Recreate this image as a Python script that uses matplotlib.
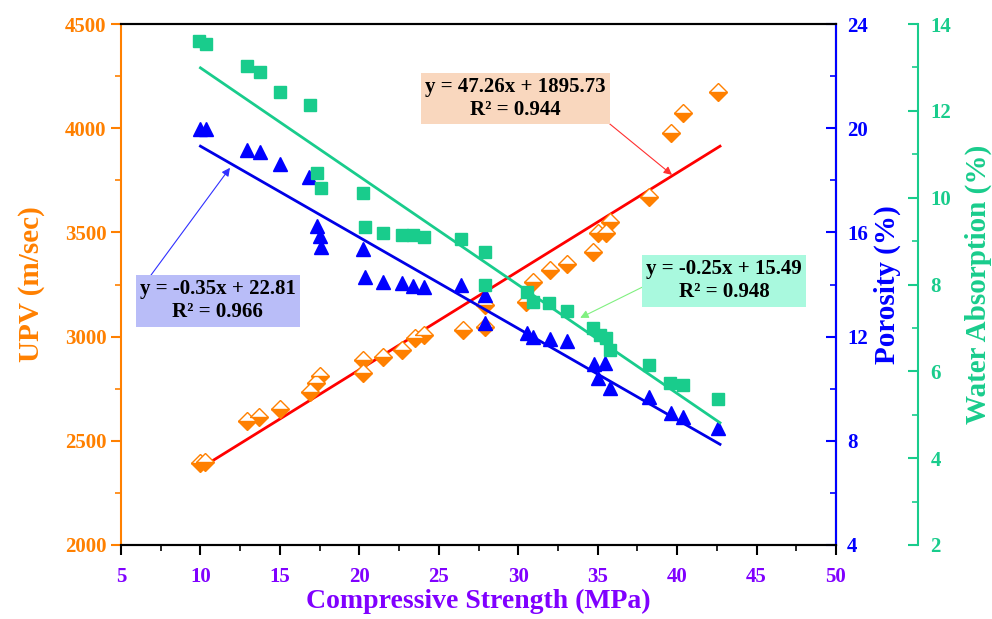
import matplotlib.pyplot as plt
from matplotlib.ticker import MultipleLocator

# compressive strength (MPa) vs UPV (m/sec)
upv_x = [10.0, 10.3, 12.9, 13.7, 15.0, 16.9, 17.3, 17.5, 20.2, 20.2, 21.5, 22.7,
         23.5, 24.1, 26.5, 27.9, 27.9, 30.5, 30.9, 32.0, 33.1, 34.7, 35.0, 35.5,
         35.8, 38.2, 39.6, 40.4, 42.6]
upv_y = [2394, 2398, 2595, 2614, 2653, 2734, 2778, 2811, 2826, 2888, 2902, 2936,
         2994, 3008, 3032, 3046, 3152, 3166, 3262, 3320, 3349, 3406, 3498, 3498,
         3550, 3670, 3978, 4074, 4174]

# compressive strength (MPa) vs porosity (%)
por_x = [10.0, 10.35, 12.9, 13.75, 15.0, 16.85, 17.35, 17.5, 17.6, 20.2, 20.35,
         21.5, 22.7, 23.4, 24.1, 26.4, 27.9, 27.9, 30.55, 30.9, 32.0, 33.1, 34.8,
         35.45, 35.0, 35.8, 38.2, 39.6, 40.4, 42.6]
por_y = [19.97, 19.97, 19.16, 19.09, 18.63, 18.13, 16.25, 15.86, 15.44, 15.36, 14.29,
         14.10, 14.06, 13.94, 13.90, 13.98, 13.60, 12.52, 12.14, 11.98, 11.90, 11.83,
         10.95, 10.99, 10.41, 10.03, 9.68, 9.07, 8.91, 8.49]

# compressive strength (MPa) vs water absorption (%)
wa_x = [9.9, 10.35, 12.9, 13.75, 15.0, 16.9, 17.35, 17.6, 20.2, 20.35, 21.5, 22.7,
        23.4, 24.1, 26.4, 27.9, 27.9, 30.55, 30.9, 31.95, 33.1, 34.7, 35.15, 35.5,
        35.8, 38.2, 39.55, 40.4, 42.6]
wa_y = [13.61, 13.54, 13.04, 12.90, 12.44, 12.14, 10.57, 10.23, 10.11, 9.33, 9.19,
        9.14, 9.14, 9.10, 9.05, 8.75, 7.99, 7.83, 7.60, 7.58, 7.39, 7.00, 6.84, 6.77,
        6.49, 6.15, 5.73, 5.69, 5.36]

# linear fits (slope, intercept) shown on the chart
fit_range = [10.0, 42.7]
upv_fit = (47.26, 1895.73)
por_fit = (-0.35, 22.81)
wa_fit = (-0.25, 15.49)

ORANGE = "#FF8000"
BLUE = "#0000FF"
GREEN = "#19CC8C"
PURPLE = "#8000FF"

plt.rcParams["font.family"] = ["Liberation Serif", "DejaVu Serif"]
plt.rcParams["font.weight"] = "bold"

fig = plt.figure(figsize=(9.92, 6.19), dpi=100)
ax = fig.add_axes([121 / 992, 1 - 545 / 619, 715 / 992, 521 / 619])
ax2 = ax.twinx()
ax3 = ax.twinx()
ax3.spines["right"].set_position(("axes", 1.1147))

# fit lines
fx = fit_range
ax.plot(fx, [upv_fit[0] * v + upv_fit[1] for v in fx], color="#FF0000", lw=2, zorder=2)
ax2.plot(fx, [por_fit[0] * v + por_fit[1] for v in fx], color="#0000E6", lw=2, zorder=2)
ax3.plot(fx, [wa_fit[0] * v + wa_fit[1] for v in fx], color=GREEN, lw=2, zorder=2)

# markers
ax.plot(upv_x, upv_y, linestyle="none", marker="D", markersize=9, fillstyle="bottom",
        markerfacecolor=ORANGE, markerfacecoloralt="white", markeredgecolor=ORANGE,
        markeredgewidth=1.0, zorder=3)
ax2.plot(por_x, por_y, linestyle="none", marker="^", markersize=10, color=BLUE, zorder=3)
ax3.plot(wa_x, wa_y, linestyle="none", marker="s", markersize=8, color=GREEN, zorder=3)

# axis ranges and ticks
ax.set_xlim(5, 50)
ax.set_ylim(2000, 4500)
ax2.set_ylim(4, 24)
ax3.set_ylim(2, 14)

ax.xaxis.set_major_locator(MultipleLocator(5))
ax.xaxis.set_minor_locator(MultipleLocator(2.5))
ax.yaxis.set_major_locator(MultipleLocator(500))
ax.yaxis.set_minor_locator(MultipleLocator(250))
ax2.yaxis.set_major_locator(MultipleLocator(4))
ax2.yaxis.set_minor_locator(MultipleLocator(2))
ax3.yaxis.set_major_locator(MultipleLocator(2))
ax3.yaxis.set_minor_locator(MultipleLocator(1))

TS = 15
ax.tick_params(axis="x", which="major", direction="out", length=7, width=1.5,
               colors="black", labelcolor=PURPLE, labelsize=TS, pad=9)
ax.tick_params(axis="x", which="minor", direction="out", length=4, width=1.2)
ax.tick_params(axis="y", which="major", direction="out", length=7, width=1.5,
               colors=ORANGE, labelsize=TS)
ax.tick_params(axis="y", which="minor", direction="out", length=4, width=1.2, colors=ORANGE)
ax2.tick_params(axis="y", which="major", direction="in", length=7, width=1.5,
                colors=BLUE, labelsize=TS, pad=8)
ax2.tick_params(axis="y", which="minor", direction="in", length=4, width=1.2, colors=BLUE)
ax3.tick_params(axis="y", which="major", direction="in", length=7, width=1.5,
                colors=GREEN, labelsize=TS, pad=9)
ax3.tick_params(axis="y", which="minor", direction="in", length=4, width=1.2, colors=GREEN)

for a in (ax, ax2, ax3):
    for s in a.spines.values():
        s.set_linewidth(1.5)
ax.spines["left"].set_color(ORANGE)
ax2.spines["right"].set_color(BLUE)
ax3.spines["right"].set_color(GREEN)
ax3.spines["left"].set_visible(False)
ax3.spines["top"].set_visible(False)
ax3.spines["bottom"].set_visible(False)
ax2.spines["left"].set_visible(False)

ax.set_xlabel("Compressive Strength (MPa)", color=PURPLE, fontsize=20, fontweight="bold", labelpad=1)
ax.set_ylabel("UPV (m/sec)", color=ORANGE, fontsize=21, fontweight="bold", labelpad=14)
ax2.set_ylabel("Porosity (%)", color=BLUE, fontsize=21, fontweight="bold", labelpad=4)
ax3.set_ylabel("Water Absorption (%)", color=GREEN, fontsize=21, fontweight="bold", labelpad=10)

# equation boxes with arrows (positions in MPa / UPV coordinates)
box_kw = dict(fontsize=15, fontweight="bold", ha="center", va="center",
              linespacing=1.2, zorder=6)
ax3.annotate("y = 47.26x + 1895.73\nR² = 0.944", xy=(39.68, 3776), xycoords=ax.transData,
             xytext=(29.8, 4141), textcoords=ax.transData,
             bbox=dict(boxstyle="square,pad=0.2", fc="#F9D7BE", ec="none"),
             arrowprops=dict(arrowstyle="-|>", color="#FF3030", lw=0.8,
                             shrinkA=0, shrinkB=0, mutation_scale=12,
                             relpos=(1.0, 0.0)), **box_kw)
ax3.annotate("y = -0.35x + 22.81\nR² = 0.966", xy=(11.86, 3810), xycoords=ax.transData,
             xytext=(11.1, 3171), textcoords=ax.transData,
             bbox=dict(boxstyle="square,pad=0.2", fc="#B9BDF8", ec="none"),
             arrowprops=dict(arrowstyle="-|>", color="#3030FF", lw=0.8,
                             shrinkA=0, shrinkB=0, mutation_scale=12,
                             relpos=(0.05, 1.0)), **box_kw)
ax3.annotate("y = -0.25x + 15.49\nR² = 0.948", xy=(33.9, 3090), xycoords=ax.transData,
             xytext=(42.95, 3267), textcoords=ax.transData,
             bbox=dict(boxstyle="square,pad=0.2", fc="#A9F9DE", ec="none"),
             arrowprops=dict(arrowstyle="-|>", color="#80F080", lw=0.8,
                             shrinkA=0, shrinkB=0, mutation_scale=12,
                             relpos=(0.0, 0.4)), **box_kw)

fig.savefig("out.png", dpi=100)
